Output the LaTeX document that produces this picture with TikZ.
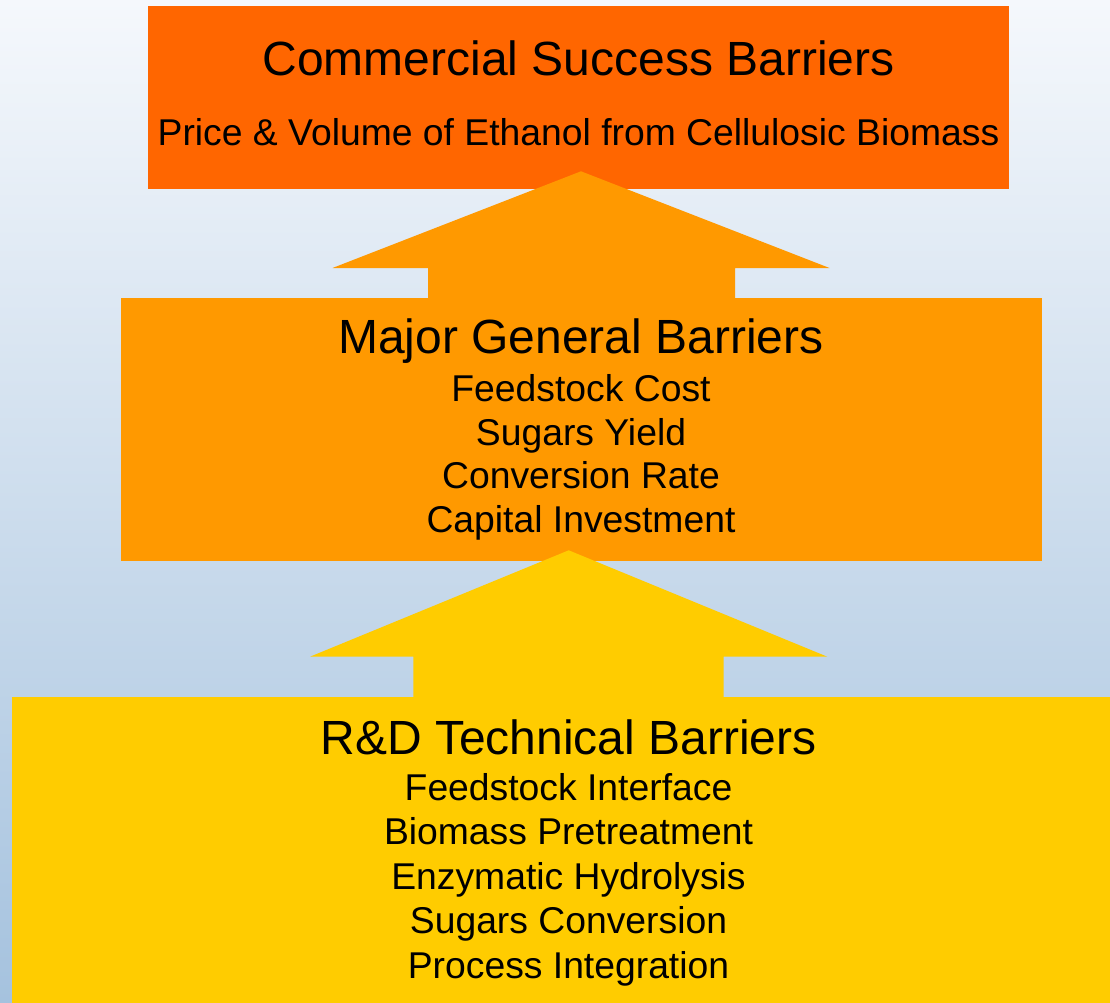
\documentclass[tikz,border=0pt]{standalone}
\usepackage{fontspec}
\setmainfont{Liberation Sans}
\definecolor{skytop}{HTML}{F5F8FC}
\definecolor{skybottom}{HTML}{A5C2DE}
\definecolor{tierone}{HTML}{FF6600}
\definecolor{tiertwo}{HTML}{FF9900}
\definecolor{tierthree}{HTML}{FFCC00}
\begin{document}
\begin{tikzpicture}[x=1pt,y=-1pt,
  tier/.style={fill=#1,draw=none,inner sep=0pt,outer sep=0pt},
  headline/.style={anchor=base,inner sep=0pt,font=\fontsize{48}{48}\selectfont},
  itemline/.style={anchor=base,inner sep=0pt,font=\fontsize{37.3}{37.3}\selectfont}]
  % backdrop
  \useasboundingbox (0,0) rectangle (1110,1003);
  \shade[top color=skytop,bottom color=skybottom] (0,0) rectangle (1110,1003);

  % tiers, each block arrow laid over the tier it points into
  % and under the tier it rises from
  \path[tier=tierone] (148,6) rectangle (1009,189.3);
  \fill[tiertwo] (581,171.3) -- (829.5,268) -- (735,268) -- (735,305)
    -- (428,305) -- (428,268) -- (332.5,268) -- cycle;
  \path[tier=tiertwo] (121,298.3) rectangle (1042,561.3);
  \fill[tierthree] (568.7,550.3) -- (827.3,656.7) -- (723.7,656.7) -- (723.7,705)
    -- (413.3,705) -- (413.3,656.7) -- (310,656.7) -- cycle;
  \path[tier=tierthree] (12.3,697.3) rectangle (1120,1010);

  % top tier text
  \node[headline] (commercial) at (578.5,75.8) {Commercial Success Barriers};
  \node[itemline] (price) at (578.5,145.5) {Price \& Volume of Ethanol from Cellulosic Biomass};

  % middle tier text
  \node[headline] (general) at (581,353.3) {Major General Barriers};
  \node[itemline] (g1) at (581,401) {Feedstock Cost};
  \node[itemline] (g2) at (581,445) {Sugars Yield};
  \node[itemline] (g3) at (581,488.8) {Conversion Rate};
  \node[itemline] (g4) at (581,532.7) {Capital Investment};

  % bottom tier text
  \node[headline] (technical) at (568.5,754.3) {R\&D Technical Barriers};
  \node[itemline] (t1) at (568.5,800) {Feedstock Interface};
  \node[itemline] (t2) at (568.5,844.6) {Biomass Pretreatment};
  \node[itemline] (t3) at (568.5,889.2) {Enzymatic Hydrolysis};
  \node[itemline] (t4) at (568.5,933.7) {Sugars Conversion};
  \node[itemline] (t5) at (568.5,978.3) {Process Integration};
\end{tikzpicture}
\end{document}
